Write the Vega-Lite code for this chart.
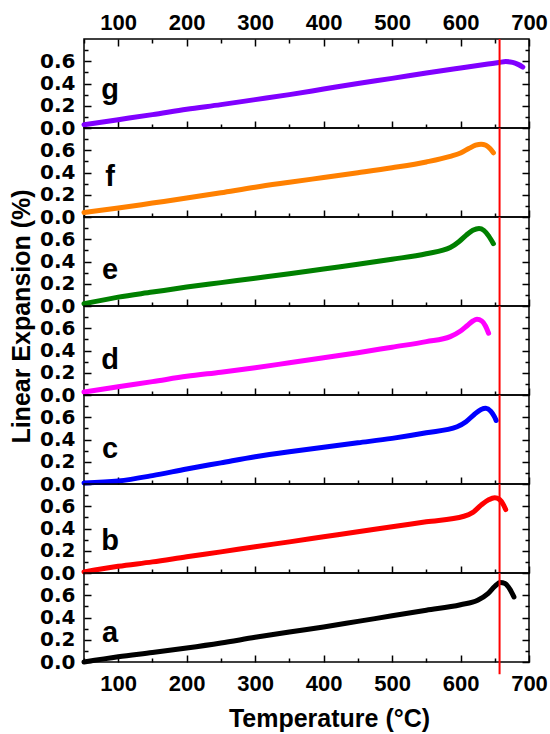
{
"$schema": "https://vega.github.io/schema/vega-lite/v6.json",
"padding": {"left": 8, "top": 7, "right": 5, "bottom": 0},
"background": "white",
"datasets": {
"curves": [
{"panel":"g","T":50,"L":0.03},{"panel":"g","T":100,"L":0.075},{"panel":"g","T":150,"L":0.12},{"panel":"g","T":200,"L":0.168},{"panel":"g","T":250,"L":0.21},{"panel":"g","T":300,"L":0.255},{"panel":"g","T":350,"L":0.3},{"panel":"g","T":400,"L":0.35},{"panel":"g","T":450,"L":0.4},{"panel":"g","T":500,"L":0.446},{"panel":"g","T":550,"L":0.495},{"panel":"g","T":600,"L":0.54},{"panel":"g","T":640,"L":0.575},{"panel":"g","T":656,"L":0.588},{"panel":"g","T":666,"L":0.597},{"panel":"g","T":676,"L":0.59},{"panel":"g","T":684,"L":0.572},{"panel":"g","T":691,"L":0.548},
{"panel":"f","T":50,"L":0.04},{"panel":"f","T":100,"L":0.08},{"panel":"f","T":150,"L":0.125},{"panel":"f","T":200,"L":0.17},{"panel":"f","T":250,"L":0.218},{"panel":"f","T":300,"L":0.268},{"panel":"f","T":350,"L":0.312},{"panel":"f","T":400,"L":0.355},{"panel":"f","T":450,"L":0.398},{"panel":"f","T":500,"L":0.443},{"panel":"f","T":550,"L":0.495},{"panel":"f","T":585,"L":0.545},{"panel":"f","T":600,"L":0.575},{"panel":"f","T":612,"L":0.615},{"panel":"f","T":622,"L":0.645},{"panel":"f","T":630,"L":0.655},{"panel":"f","T":637,"L":0.645},{"panel":"f","T":643,"L":0.615},{"panel":"f","T":648,"L":0.577},
{"panel":"e","T":50,"L":0.02},{"panel":"e","T":100,"L":0.08},{"panel":"e","T":150,"L":0.125},{"panel":"e","T":200,"L":0.17},{"panel":"e","T":250,"L":0.21},{"panel":"e","T":300,"L":0.25},{"panel":"e","T":350,"L":0.29},{"panel":"e","T":400,"L":0.333},{"panel":"e","T":450,"L":0.375},{"panel":"e","T":500,"L":0.42},{"panel":"e","T":550,"L":0.47},{"panel":"e","T":585,"L":0.525},{"panel":"e","T":598,"L":0.58},{"panel":"e","T":608,"L":0.635},{"panel":"e","T":618,"L":0.68},{"panel":"e","T":627,"L":0.697},{"panel":"e","T":634,"L":0.68},{"panel":"e","T":641,"L":0.63},{"panel":"e","T":648,"L":0.56},
{"panel":"d","T":50,"L":0.027},{"panel":"d","T":100,"L":0.075},{"panel":"d","T":150,"L":0.12},{"panel":"d","T":200,"L":0.168},{"panel":"d","T":250,"L":0.205},{"panel":"d","T":300,"L":0.245},{"panel":"d","T":350,"L":0.29},{"panel":"d","T":400,"L":0.335},{"panel":"d","T":450,"L":0.38},{"panel":"d","T":500,"L":0.43},{"panel":"d","T":550,"L":0.48},{"panel":"d","T":585,"L":0.525},{"panel":"d","T":600,"L":0.575},{"panel":"d","T":610,"L":0.625},{"panel":"d","T":618,"L":0.665},{"panel":"d","T":624,"L":0.68},{"panel":"d","T":631,"L":0.665},{"panel":"d","T":636,"L":0.625},{"panel":"d","T":641,"L":0.555},
{"panel":"c","T":50,"L":0.01},{"panel":"c","T":100,"L":0.027},{"panel":"c","T":150,"L":0.075},{"panel":"c","T":200,"L":0.135},{"panel":"c","T":250,"L":0.19},{"panel":"c","T":300,"L":0.245},{"panel":"c","T":350,"L":0.29},{"panel":"c","T":400,"L":0.33},{"panel":"c","T":450,"L":0.37},{"panel":"c","T":500,"L":0.41},{"panel":"c","T":550,"L":0.46},{"panel":"c","T":595,"L":0.515},{"panel":"c","T":608,"L":0.56},{"panel":"c","T":620,"L":0.625},{"panel":"c","T":630,"L":0.67},{"panel":"c","T":637,"L":0.68},{"panel":"c","T":644,"L":0.655},{"panel":"c","T":649,"L":0.61},{"panel":"c","T":652,"L":0.572},
{"panel":"b","T":50,"L":0.01},{"panel":"b","T":100,"L":0.06},{"panel":"b","T":150,"L":0.1},{"panel":"b","T":200,"L":0.146},{"panel":"b","T":250,"L":0.19},{"panel":"b","T":300,"L":0.236},{"panel":"b","T":350,"L":0.28},{"panel":"b","T":400,"L":0.325},{"panel":"b","T":450,"L":0.37},{"panel":"b","T":500,"L":0.416},{"panel":"b","T":550,"L":0.46},{"panel":"b","T":605,"L":0.51},{"panel":"b","T":618,"L":0.545},{"panel":"b","T":630,"L":0.61},{"panel":"b","T":641,"L":0.658},{"panel":"b","T":650,"L":0.677},{"panel":"b","T":657,"L":0.66},{"panel":"b","T":662,"L":0.62},{"panel":"b","T":666,"L":0.57},
{"panel":"a","T":50,"L":0.0},{"panel":"a","T":100,"L":0.048},{"panel":"a","T":150,"L":0.085},{"panel":"a","T":200,"L":0.125},{"panel":"a","T":250,"L":0.17},{"panel":"a","T":300,"L":0.222},{"panel":"a","T":350,"L":0.27},{"panel":"a","T":400,"L":0.315},{"panel":"a","T":450,"L":0.365},{"panel":"a","T":500,"L":0.415},{"panel":"a","T":550,"L":0.465},{"panel":"a","T":600,"L":0.515},{"panel":"a","T":625,"L":0.555},{"panel":"a","T":640,"L":0.615},{"panel":"a","T":650,"L":0.68},{"panel":"a","T":658,"L":0.715},{"panel":"a","T":665,"L":0.705},{"panel":"a","T":672,"L":0.655},{"panel":"a","T":678,"L":0.585}
],
"letters": [
{"panel":"g","T":88,"L":0.26,"letter":"g"},
{"panel":"f","T":88,"L":0.28,"letter":"f"},
{"panel":"e","T":88,"L":0.245,"letter":"e"},
{"panel":"d","T":88,"L":0.236,"letter":"d"},
{"panel":"c","T":88,"L":0.23,"letter":"c"},
{"panel":"b","T":88,"L":0.205,"letter":"b"},
{"panel":"a","T":88,"L":0.18,"letter":"a"}
],
"marker": [{"T":657}]
},
"spacing": 0,
"bounds": "flush",
"vconcat": [
{"width":445,"height":89,"resolve":{"axis":{"x":"independent","y":"independent"}},"layer":[
 {"data":{"name":"curves"},"transform":[{"filter":{"field":"panel","equal":"g"}}],"mark":{"type":"line","color":"#8000FF","strokeWidth":5,"strokeCap":"round","strokeJoin":"round","interpolate":"monotone"},
  "encoding":{"x":{"field":"T","type":"quantitative","scale":{"domain":[50,700],"nice":false,"zero":false},"axis":{"orient":"bottom","values":[50,100,150,200,250,300,350,400,450,500,550,600,650,700],"labels":false,"title":null,"tickSize":{"condition":{"test":"datum.value % 100 === 0","value":-7},"value":-4}}},
   "y":{"field":"L","type":"quantitative","scale":{"domain":[0,0.8],"nice":false,"zero":false},"axis":{"orient":"left","values":[0,0.1,0.2,0.3,0.4,0.5,0.6,0.7],"title":null,"labelExpr":"round(datum.value*10) % 2 === 0 ? format(datum.value, '.1f') : ''","labelFont":"DejaVu Sans","labelFontSize":20,"labelPadding":16,"labelBaseline":"middle","tickSize":{"condition":{"test":"round(datum.value*10) % 2 === 0","value":-7},"value":-4}}}}},
 {"data":{"name":"letters"},"transform":[{"filter":{"field":"panel","equal":"g"}}],"mark":{"type":"text","font":"Liberation Sans","fontWeight":"bold","fontSize":29,"align":"center","baseline":"alphabetic","color":"black"},
  "encoding":{"x":{"field":"T","type":"quantitative","axis":{"orient":"top","values":[50,100,150,200,250,300,350,400,450,500,550,600,650,700],"title":null,"labelExpr":"datum.value % 100 === 0 ? datum.label : ''","labelFontSize":22,"labelPadding":12,"tickSize":{"condition":{"test":"datum.value % 100 === 0","value":-7},"value":-4}}},
   "y":{"field":"L","type":"quantitative","axis":{"orient":"right","values":[0,0.1,0.2,0.3,0.4,0.5,0.6,0.7],"title":null,"labels":false,"tickSize":{"condition":{"test":"round(datum.value*10) % 2 === 0","value":-7},"value":-4}}},
   "text":{"field":"letter"}}},
 {"data":{"name":"marker"},"mark":{"type":"rule","color":"#FF0000","strokeWidth":2},"encoding":{"x":{"field":"T","type":"quantitative","axis":null}}}
]},
{"width":445,"height":89,"resolve":{"axis":{"x":"independent","y":"independent"}},"layer":[
 {"data":{"name":"curves"},"transform":[{"filter":{"field":"panel","equal":"f"}}],"mark":{"type":"line","color":"#FF8000","strokeWidth":5,"strokeCap":"round","strokeJoin":"round","interpolate":"monotone"},
  "encoding":{"x":{"field":"T","type":"quantitative","scale":{"domain":[50,700],"nice":false,"zero":false},"axis":{"orient":"bottom","values":[50,100,150,200,250,300,350,400,450,500,550,600,650,700],"labels":false,"title":null,"tickSize":{"condition":{"test":"datum.value % 100 === 0","value":-7},"value":-4}}},
   "y":{"field":"L","type":"quantitative","scale":{"domain":[0,0.8],"nice":false,"zero":false},"axis":{"orient":"left","values":[0,0.1,0.2,0.3,0.4,0.5,0.6,0.7],"title":null,"labelExpr":"round(datum.value*10) % 2 === 0 ? format(datum.value, '.1f') : ''","labelFont":"DejaVu Sans","labelFontSize":20,"labelPadding":16,"labelBaseline":"middle","tickSize":{"condition":{"test":"round(datum.value*10) % 2 === 0","value":-7},"value":-4}}}}},
 {"data":{"name":"letters"},"transform":[{"filter":{"field":"panel","equal":"f"}}],"mark":{"type":"text","font":"Liberation Sans","fontWeight":"bold","fontSize":29,"align":"center","baseline":"alphabetic","color":"black"},
  "encoding":{"x":{"field":"T","type":"quantitative","axis":null},
   "y":{"field":"L","type":"quantitative","axis":{"orient":"right","values":[0,0.1,0.2,0.3,0.4,0.5,0.6,0.7],"title":null,"labels":false,"tickSize":{"condition":{"test":"round(datum.value*10) % 2 === 0","value":-7},"value":-4}}},
   "text":{"field":"letter"}}},
 {"data":{"name":"marker"},"mark":{"type":"rule","color":"#FF0000","strokeWidth":2},"encoding":{"x":{"field":"T","type":"quantitative","axis":null}}}
]},
{"width":445,"height":89,"resolve":{"axis":{"x":"independent","y":"independent"}},"layer":[
 {"data":{"name":"curves"},"transform":[{"filter":{"field":"panel","equal":"e"}}],"mark":{"type":"line","color":"#008000","strokeWidth":5,"strokeCap":"round","strokeJoin":"round","interpolate":"monotone"},
  "encoding":{"x":{"field":"T","type":"quantitative","scale":{"domain":[50,700],"nice":false,"zero":false},"axis":{"orient":"bottom","values":[50,100,150,200,250,300,350,400,450,500,550,600,650,700],"labels":false,"title":null,"tickSize":{"condition":{"test":"datum.value % 100 === 0","value":-7},"value":-4}}},
   "y":{"field":"L","type":"quantitative","scale":{"domain":[0,0.8],"nice":false,"zero":false},"axis":{"orient":"left","values":[0,0.1,0.2,0.3,0.4,0.5,0.6,0.7],"title":null,"labelExpr":"round(datum.value*10) % 2 === 0 ? format(datum.value, '.1f') : ''","labelFont":"DejaVu Sans","labelFontSize":20,"labelPadding":16,"labelBaseline":"middle","tickSize":{"condition":{"test":"round(datum.value*10) % 2 === 0","value":-7},"value":-4}}}}},
 {"data":{"name":"letters"},"transform":[{"filter":{"field":"panel","equal":"e"}}],"mark":{"type":"text","font":"Liberation Sans","fontWeight":"bold","fontSize":29,"align":"center","baseline":"alphabetic","color":"black"},
  "encoding":{"x":{"field":"T","type":"quantitative","axis":null},
   "y":{"field":"L","type":"quantitative","axis":{"orient":"right","values":[0,0.1,0.2,0.3,0.4,0.5,0.6,0.7],"title":null,"labels":false,"tickSize":{"condition":{"test":"round(datum.value*10) % 2 === 0","value":-7},"value":-4}}},
   "text":{"field":"letter"}}},
 {"data":{"name":"marker"},"mark":{"type":"rule","color":"#FF0000","strokeWidth":2},"encoding":{"x":{"field":"T","type":"quantitative","axis":null}}}
]},
{"width":445,"height":89,"resolve":{"axis":{"x":"independent","y":"independent"}},"layer":[
 {"data":{"name":"curves"},"transform":[{"filter":{"field":"panel","equal":"d"}}],"mark":{"type":"line","color":"#FF00FF","strokeWidth":5,"strokeCap":"round","strokeJoin":"round","interpolate":"monotone"},
  "encoding":{"x":{"field":"T","type":"quantitative","scale":{"domain":[50,700],"nice":false,"zero":false},"axis":{"orient":"bottom","values":[50,100,150,200,250,300,350,400,450,500,550,600,650,700],"labels":false,"title":null,"tickSize":{"condition":{"test":"datum.value % 100 === 0","value":-7},"value":-4}}},
   "y":{"field":"L","type":"quantitative","scale":{"domain":[0,0.8],"nice":false,"zero":false},"axis":{"orient":"left","values":[0,0.1,0.2,0.3,0.4,0.5,0.6,0.7],"title":"Linear Expansion (%)","titleFont":"Liberation Sans","titleFontWeight":"bold","titleFontSize":25,"titleAngle":-90,"titleAlign":"center","titleBaseline":"alphabetic","titleX":-55,"titleY":10,"labelExpr":"round(datum.value*10) % 2 === 0 ? format(datum.value, '.1f') : ''","labelFont":"DejaVu Sans","labelFontSize":20,"labelPadding":16,"labelBaseline":"middle","tickSize":{"condition":{"test":"round(datum.value*10) % 2 === 0","value":-7},"value":-4}}}}},
 {"data":{"name":"letters"},"transform":[{"filter":{"field":"panel","equal":"d"}}],"mark":{"type":"text","font":"Liberation Sans","fontWeight":"bold","fontSize":29,"align":"center","baseline":"alphabetic","color":"black"},
  "encoding":{"x":{"field":"T","type":"quantitative","axis":null},
   "y":{"field":"L","type":"quantitative","axis":{"orient":"right","values":[0,0.1,0.2,0.3,0.4,0.5,0.6,0.7],"title":null,"labels":false,"tickSize":{"condition":{"test":"round(datum.value*10) % 2 === 0","value":-7},"value":-4}}},
   "text":{"field":"letter"}}},
 {"data":{"name":"marker"},"mark":{"type":"rule","color":"#FF0000","strokeWidth":2},"encoding":{"x":{"field":"T","type":"quantitative","axis":null}}}
]},
{"width":445,"height":89,"resolve":{"axis":{"x":"independent","y":"independent"}},"layer":[
 {"data":{"name":"curves"},"transform":[{"filter":{"field":"panel","equal":"c"}}],"mark":{"type":"line","color":"#0000FF","strokeWidth":5,"strokeCap":"round","strokeJoin":"round","interpolate":"monotone"},
  "encoding":{"x":{"field":"T","type":"quantitative","scale":{"domain":[50,700],"nice":false,"zero":false},"axis":{"orient":"bottom","values":[50,100,150,200,250,300,350,400,450,500,550,600,650,700],"labels":false,"title":null,"tickSize":{"condition":{"test":"datum.value % 100 === 0","value":-7},"value":-4}}},
   "y":{"field":"L","type":"quantitative","scale":{"domain":[0,0.8],"nice":false,"zero":false},"axis":{"orient":"left","values":[0,0.1,0.2,0.3,0.4,0.5,0.6,0.7],"title":null,"labelExpr":"round(datum.value*10) % 2 === 0 ? format(datum.value, '.1f') : ''","labelFont":"DejaVu Sans","labelFontSize":20,"labelPadding":16,"labelBaseline":"middle","tickSize":{"condition":{"test":"round(datum.value*10) % 2 === 0","value":-7},"value":-4}}}}},
 {"data":{"name":"letters"},"transform":[{"filter":{"field":"panel","equal":"c"}}],"mark":{"type":"text","font":"Liberation Sans","fontWeight":"bold","fontSize":29,"align":"center","baseline":"alphabetic","color":"black"},
  "encoding":{"x":{"field":"T","type":"quantitative","axis":null},
   "y":{"field":"L","type":"quantitative","axis":{"orient":"right","values":[0,0.1,0.2,0.3,0.4,0.5,0.6,0.7],"title":null,"labels":false,"tickSize":{"condition":{"test":"round(datum.value*10) % 2 === 0","value":-7},"value":-4}}},
   "text":{"field":"letter"}}},
 {"data":{"name":"marker"},"mark":{"type":"rule","color":"#FF0000","strokeWidth":2},"encoding":{"x":{"field":"T","type":"quantitative","axis":null}}}
]},
{"width":445,"height":89,"resolve":{"axis":{"x":"independent","y":"independent"}},"layer":[
 {"data":{"name":"curves"},"transform":[{"filter":{"field":"panel","equal":"b"}}],"mark":{"type":"line","color":"#FF0000","strokeWidth":5,"strokeCap":"round","strokeJoin":"round","interpolate":"monotone"},
  "encoding":{"x":{"field":"T","type":"quantitative","scale":{"domain":[50,700],"nice":false,"zero":false},"axis":{"orient":"bottom","values":[50,100,150,200,250,300,350,400,450,500,550,600,650,700],"labels":false,"title":null,"tickSize":{"condition":{"test":"datum.value % 100 === 0","value":-7},"value":-4}}},
   "y":{"field":"L","type":"quantitative","scale":{"domain":[0,0.8],"nice":false,"zero":false},"axis":{"orient":"left","values":[0,0.1,0.2,0.3,0.4,0.5,0.6,0.7],"title":null,"labelExpr":"round(datum.value*10) % 2 === 0 ? format(datum.value, '.1f') : ''","labelFont":"DejaVu Sans","labelFontSize":20,"labelPadding":16,"labelBaseline":"middle","tickSize":{"condition":{"test":"round(datum.value*10) % 2 === 0","value":-7},"value":-4}}}}},
 {"data":{"name":"letters"},"transform":[{"filter":{"field":"panel","equal":"b"}}],"mark":{"type":"text","font":"Liberation Sans","fontWeight":"bold","fontSize":29,"align":"center","baseline":"alphabetic","color":"black"},
  "encoding":{"x":{"field":"T","type":"quantitative","axis":null},
   "y":{"field":"L","type":"quantitative","axis":{"orient":"right","values":[0,0.1,0.2,0.3,0.4,0.5,0.6,0.7],"title":null,"labels":false,"tickSize":{"condition":{"test":"round(datum.value*10) % 2 === 0","value":-7},"value":-4}}},
   "text":{"field":"letter"}}},
 {"data":{"name":"marker"},"mark":{"type":"rule","color":"#FF0000","strokeWidth":2},"encoding":{"x":{"field":"T","type":"quantitative","axis":null}}}
]},
{"width":445,"height":89,"resolve":{"axis":{"x":"independent","y":"independent"}},"layer":[
 {"data":{"name":"curves"},"transform":[{"filter":{"field":"panel","equal":"a"}}],"mark":{"type":"line","color":"#000000","strokeWidth":5,"strokeCap":"round","strokeJoin":"round","interpolate":"monotone"},
  "encoding":{"x":{"field":"T","type":"quantitative","scale":{"domain":[50,700],"nice":false,"zero":false},"axis":{"orient":"bottom","values":[50,100,150,200,250,300,350,400,450,500,550,600,650,700],"title":"Temperature (°C)","titleFont":"Liberation Sans","titleFontWeight":"bold","titleFontSize":25,"titleX":245,"titleY":44,"titleAlign":"center","titleBaseline":"top","labelExpr":"datum.value % 100 === 0 ? datum.label : ''","labelFontSize":22,"labelPadding":18,"tickSize":{"condition":{"test":"datum.value % 100 === 0","value":-7},"value":-4}}},
   "y":{"field":"L","type":"quantitative","scale":{"domain":[0,0.8],"nice":false,"zero":false},"axis":{"orient":"left","values":[0,0.1,0.2,0.3,0.4,0.5,0.6,0.7],"title":null,"labelExpr":"round(datum.value*10) % 2 === 0 ? format(datum.value, '.1f') : ''","labelFont":"DejaVu Sans","labelFontSize":20,"labelPadding":16,"labelBaseline":"middle","tickSize":{"condition":{"test":"round(datum.value*10) % 2 === 0","value":-7},"value":-4}}}}},
 {"data":{"name":"letters"},"transform":[{"filter":{"field":"panel","equal":"a"}}],"mark":{"type":"text","font":"Liberation Sans","fontWeight":"bold","fontSize":29,"align":"center","baseline":"alphabetic","color":"black"},
  "encoding":{"x":{"field":"T","type":"quantitative","axis":null},
   "y":{"field":"L","type":"quantitative","axis":{"orient":"right","values":[0,0.1,0.2,0.3,0.4,0.5,0.6,0.7],"title":null,"labels":false,"tickSize":{"condition":{"test":"round(datum.value*10) % 2 === 0","value":-7},"value":-4}}},
   "text":{"field":"letter"}}},
 {"data":{"name":"marker"},"mark":{"type":"rule","color":"#FF0000","strokeWidth":2},"encoding":{"x":{"field":"T","type":"quantitative","axis":null},"y":{"datum":-0.11,"axis":null},"y2":{"datum":0.8}}}
]}
],
"config": {
 "view": {"stroke": "black", "strokeWidth": 1.5},
 "axis": {"domain": false, "grid": false, "tickColor": "black", "tickWidth": 1.5, "labelColor": "black", "titleColor": "black", "labelFont": "Liberation Sans", "labelFontWeight": "bold", "labelOverlap": false, "labelFlush": false, "titleFont": "Liberation Sans", "titleFontWeight": "bold"}
}
}
